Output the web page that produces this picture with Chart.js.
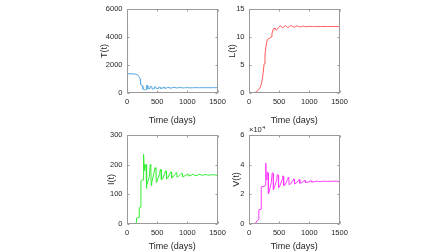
<!DOCTYPE html>
<html><head><meta charset="utf-8">
<script src="https://cdn.jsdelivr.net/npm/chart.js@4/dist/chart.umd.min.js"></script>
<style>
html,body{margin:0;padding:0;background:#fff;width:448px;height:252px;overflow:hidden;position:relative}
canvas{position:absolute}
</style></head><body>
<canvas id="cT"></canvas><canvas id="cL"></canvas><canvas id="cI"></canvas><canvas id="cV"></canvas>
<script>
// ---- data ----
const xTicks = [0, 500, 1000, 1500];
const T_ticks = [0, 2000, 4000, 6000];
const L_ticks = [0, 5, 10, 15];
const I_ticks = [0, 100, 200, 300];
const V_ticks = [0, 20000, 40000, 60000];

const T_time = [0,3,8,15,100,150,180,200,220,225,255,262,290,300,320,325,340,345,380,385,410,415,450,455,480,485,520,525,550,555,590,595,620,625,660,665,700,705,750,755,800,805,850,855,900,905,960,965,1020,1025,1100,1105,1200,1300,1400,1500];
const T_vals = [5000,3500,1500,1380,1370,1340,1280,1150,1000,600,520,280,250,220,230,560,520,300,320,480,450,290,300,440,420,310,320,420,400,330,340,410,400,340,350,400,395,350,360,395,390,360,365,390,385,365,370,385,380,368,372,383,378,380,379,380];

const L_time = [0,60,100,130,160,185,205,220,235,250,265,280,295,310,330,350,365,380,400,415,430,450,470,490,515,535,555,575,600,620,645,670,695,720,745,770,795,820,845,870,900,930,960,1000,1050,1100,1200,1300,1400,1500];
const L_vals = [0,0.02,0.1,0.3,0.6,1.0,1.6,2.4,3.6,5.2,6.8,8.2,9.2,9.6,9.7,9.8,10.0,10.6,11.3,11.6,11.4,11.2,11.4,11.7,12.0,11.9,11.6,11.75,12.05,11.9,11.7,11.85,12.05,11.9,11.75,11.85,12.0,11.9,11.8,11.85,11.95,11.85,11.82,11.9,11.87,11.85,11.88,11.86,11.87,11.85];

const I_time = [0,100,140,155,158,200,203,228,231,265,270,275,282,290,305,315,320,330,370,385,395,400,410,450,465,480,485,500,540,555,565,570,590,625,640,650,655,675,710,725,735,740,760,800,815,825,830,850,890,905,915,920,960,1000,1010,1020,1060,1100,1110,1120,1170,1210,1230,1280,1320,1340,1400,1450,1500];
const I_vals = [0,0,3,5,20,22,55,57,145,150,148,235,200,180,200,200,120,130,160,200,195,130,140,175,190,185,140,145,170,185,183,150,152,170,180,178,152,155,170,176,175,155,158,168,173,172,158,160,168,171,170,160,162,168,169,162,164,168,168,163,165,168,164,166,167,164,166,166,163];

const V_time = [0,100,130,160,163,200,203,250,275,278,285,295,305,318,322,335,370,385,400,405,420,460,470,485,490,510,550,560,570,575,600,640,650,660,665,690,730,740,750,755,780,820,830,840,845,870,910,920,930,935,980,1020,1030,1040,1090,1130,1150,1200,1250,1300,1350,1400,1450,1500];
const V_vals = [0,0,2000,3000,9500,10000,25000,25500,26000,41000,31000,30000,35000,34500,20500,22000,28000,34500,34000,23000,24500,30000,33500,33000,24500,25500,30000,32500,32000,26000,26500,30000,31500,31000,26500,27000,29500,30500,30200,27000,27500,29300,30000,29800,27500,27800,29000,29500,29300,28000,28300,29000,29200,28300,28500,29000,28600,28700,28900,28700,28800,28800,28900,28500];

// ---- style ----
const FF = "'Liberation Sans', Arial, sans-serif";
const TXT = '#262626';
const AXC = '#9a9a9a';

const boxPlugin = {
  id: 'box',
  afterDatasetsDraw(chart) {
    const {ctx, chartArea: a, scales} = chart;
    ctx.save();
    ctx.strokeStyle = AXC; ctx.lineWidth = 1;
    const L = Math.round(a.left) + 0.5, R = Math.round(a.right) - 0.5;
    const T = Math.round(a.top) + 0.5, B = Math.round(a.bottom) - 0.5;
    ctx.strokeRect(L, T, R - L, B - T);
    ctx.beginPath();
    scales.x.ticks.forEach(t => {
      const p = Math.round(scales.x.getPixelForValue(t.value)) + 0.5;
      ctx.moveTo(p, B); ctx.lineTo(p, B - 2);
      ctx.moveTo(p, T); ctx.lineTo(p, T + 2);
    });
    scales.y.ticks.forEach(t => {
      const p = Math.round(scales.y.getPixelForValue(t.value)) + 0.5;
      ctx.moveTo(L, p); ctx.lineTo(L + 2, p);
      ctx.moveTo(R, p); ctx.lineTo(R - 2, p);
    });
    ctx.stroke();
    const ex = chart.options.plugins.box && chart.options.plugins.box.exponent;
    if (ex) {
      ctx.fillStyle = TXT;
      ctx.textBaseline = 'alphabetic';
      ctx.textAlign = 'left';
      ctx.font = '7.5px ' + FF;
      ctx.fillText('\u00d710', a.left, a.top - 3);
      const w = ctx.measureText('\u00d710').width;
      ctx.font = '5.5px ' + FF;
      ctx.fillText(ex, a.left + w + 0.5, a.top - 6.5);
    }
    ctx.restore();
  }
};

function panel(id, cv, pa, s) {
  const el = document.getElementById(id);
  el.width = cv.w; el.height = cv.h;
  el.style.left = cv.x + 'px'; el.style.top = cv.y + 'px';
  el.style.width = cv.w + 'px'; el.style.height = cv.h + 'px';
  const data = s.time.map((t, i) => ({x: t, y: s.vals[i]}));
  const tickFont = {family: FF, size: 7.5};
  const titleFont = {family: FF, size: 9};
  new Chart(el, {
    type: 'line',
    data: {datasets: [{data, borderColor: s.color, borderWidth: 1, pointRadius: 0, tension: 0, fill: false}]},
    options: {
      responsive: false, animation: false, devicePixelRatio: 1,
      layout: {padding: {left: 0, top: pa.t - cv.y, right: cv.x + cv.w - pa.r, bottom: 0}},
      plugins: {legend: {display: false}, tooltip: {enabled: false}, box: {exponent: s.exponent || ''}},
      scales: {
        x: {
          type: 'linear', min: 0, max: 1500,
          afterBuildTicks: sc => { sc.ticks = xTicks.map(v => ({value: v})); },
          grid: {display: false, drawTicks: false}, border: {display: false},
          ticks: {font: tickFont, color: TXT, padding: 4.5, maxRotation: 0, autoSkip: false,
                  callback: v => String(v)},
          title: {display: true, text: 'Time (days)', font: titleFont, color: TXT, padding: {top: s.xtPad, bottom: 0}},
          afterFit: sc => { sc.height = cv.y + cv.h - pa.b; }
        },
        y: {
          type: 'linear', min: s.yTicks[0], max: s.yTicks[s.yTicks.length - 1],
          afterBuildTicks: sc => { sc.ticks = s.yTicks.map(v => ({value: v})); },
          grid: {display: false, drawTicks: false}, border: {display: false},
          ticks: {font: tickFont, color: TXT, padding: 4.5, autoSkip: false,
                  callback: v => s.fmt ? s.fmt(v) : String(v)},
          title: {display: true, text: s.ylabel, font: titleFont, color: TXT, padding: {top: s.ytPad, bottom: 0}},
          afterFit: sc => { sc.width = pa.l - cv.x; }
        }
      }
    },
    plugins: [boxPlugin]
  });
}

panel('cT', {x: 80, y: 0, w: 160, h: 126}, {l: 127, t: 2, r: 217.5, b: 93},
  {time: T_time, vals: T_vals, color: '#5aa9e0', yTicks: T_ticks, ylabel: 'T(t)', ytPad: 19.6, xtPad: 4.6});
panel('cL', {x: 215, y: 0, w: 150, h: 126}, {l: 249, t: 2, r: 339.5, b: 93},
  {time: L_time, vals: L_vals, color: '#ff5c5c', yTicks: L_ticks, ylabel: 'L(t)', ytPad: 12.6, xtPad: 4.6});
panel('cI', {x: 80, y: 126, w: 160, h: 126}, {l: 127, t: 134, r: 217.5, b: 224},
  {time: I_time, vals: I_vals, color: '#33ee33', yTicks: I_ticks, ylabel: 'I(t)', ytPad: 26.3, xtPad: 0});
panel('cV', {x: 215, y: 126, w: 150, h: 126}, {l: 249, t: 134, r: 339.5, b: 224},
  {time: V_time, vals: V_vals, color: '#ff38ff', yTicks: V_ticks, ylabel: 'V(t)', ytPad: 16.3, xtPad: 0,
   fmt: v => String(v / 10000), exponent: '4'});
</script>
</body></html>
